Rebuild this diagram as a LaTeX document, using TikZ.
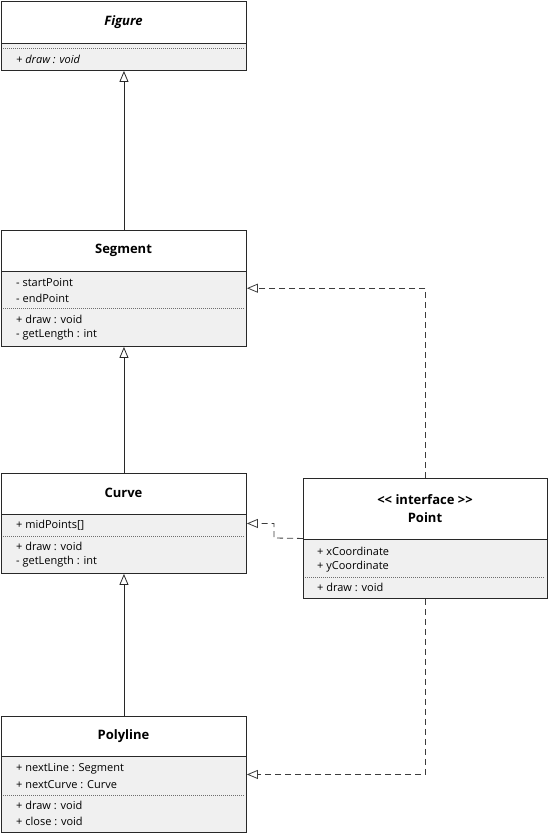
\documentclass[tikz,border=0pt]{standalone}
\usepackage{fontspec}
\setmainfont{Open Sans}
\usetikzlibrary{arrows.meta}
\definecolor{bodyfill}{RGB}{240,240,240}
\definecolor{frame}{RGB}{40,40,40}
\definecolor{dotline}{RGB}{110,110,110}
\definecolor{realline}{RGB}{60,60,60}
\tikzset{
  classframe/.style={draw=frame, line width=0.9pt, rectangle, inner sep=0pt, anchor=north west},
  sepline/.style={draw=frame, line width=0.9pt},
  dotsep/.style={draw=dotline, line width=0.8pt, dash pattern=on 1pt off 1pt},
  title/.style={font=\fontsize{13}{15}\selectfont\bfseries, inner sep=0pt, align=center},
  member/.style={font=\fontsize{11}{13}\selectfont, inner sep=0pt, anchor=west},
  gen/.style={draw=frame, line width=0.8pt, -{Triangle[open, length=11pt, width=9pt]}},
  realize/.style={draw=realline, line width=0.8pt, dash pattern=on 6pt off 4pt,
    -{Triangle[open, length=11pt, width=9pt]}}
}
% one class box: fills, compartment lines and frame
% #1 name, #2 x1, #3 y1, #4 x2, #5 y2, #6 header divider y, #7 dotted divider y
\newcommand{\classbox}[7]{%
  \fill[white] (#2,#3) rectangle (#4,#6);
  \fill[bodyfill] (#2,#6) rectangle (#4,#5);
  \draw[sepline] (#2,#6) -- (#4,#6);
  \draw[dotsep] (#2+2,#7) -- (#4-2,#7);
  \node[classframe, minimum width=#4-#2, minimum height=#5-#3] (#1) at (#2,#3) {};
}
\begin{document}
\begin{tikzpicture}[x=1pt,y=-1pt]
\useasboundingbox (0,0) rectangle (549,836);

% Figure
\classbox{figure}{1}{1}{246}{70}{43}{48.5}
\node[title, font=\fontsize{13}{15}\selectfont\bfseries\itshape] (figureT) at (123.5,22) {Figure};
\node[member, font=\fontsize{11}{13}\selectfont\itshape] (figureM1) at (16,59) {+ draw : void};

% Segment
\classbox{segment}{1}{229.5}{246}{346}{271}{308.5}
\node[title] (segmentT) at (123.5,250) {Segment};
\node[member] (segmentA1) at (16,283) {- startPoint};
\node[member] (segmentA2) at (16,298.5) {- endPoint};
\node[member] (segmentM1) at (16,319) {+ draw : void};
\node[member] (segmentM2) at (16,334.5) {- getLength : int};

% Curve
\classbox{curve}{1}{473}{246}{573}{514}{536}
\node[title] (curveT) at (123.5,493) {Curve};
\node[member] (curveA1) at (16,525.5) {+ midPoints[]};
\node[member] (curveM1) at (16,546) {+ draw : void};
\node[member] (curveM2) at (16,562) {- getLength : int};

% Polyline
\classbox{polyline}{1}{716}{246}{832}{756.5}{795}
\node[title] (polylineT) at (123.5,736) {Polyline};
\node[member] (polylineA1) at (16,769) {+ nextLine : Segment};
\node[member] (polylineA2) at (16,785) {+ nextCurve : Curve};
\node[member] (polylineM1) at (16,805) {+ draw : void};
\node[member] (polylineM2) at (16,821) {+ close : void};

% Point (interface)
\classbox{point}{303}{478}{547}{598}{539}{577}
\node[title] (pointT1) at (425,499.5) {<\kern0pt< interface >\kern0pt>};
\node[title] (pointT2) at (425,518) {Point};
\node[member] (pointA1) at (317,551) {+ xCoordinate};
\node[member] (pointA2) at (317,567) {+ yCoordinate};
\node[member] (pointM1) at (317,587) {+ draw : void};

% generalisation
\draw[gen] (segment.north) -- (figure.south);
\draw[gen] (curve.north) -- (segment.south);
\draw[gen] (polyline.north) -- (curve.south);

% realisation
\coordinate (bendC) at (274,538);
\draw[realize] (point.north) |- (segment.east);
\draw[realize] (point.west) -- (bendC) |- (curve.east);
\draw[realize] (point.south) |- (polyline.east);
\end{tikzpicture}
\end{document}
